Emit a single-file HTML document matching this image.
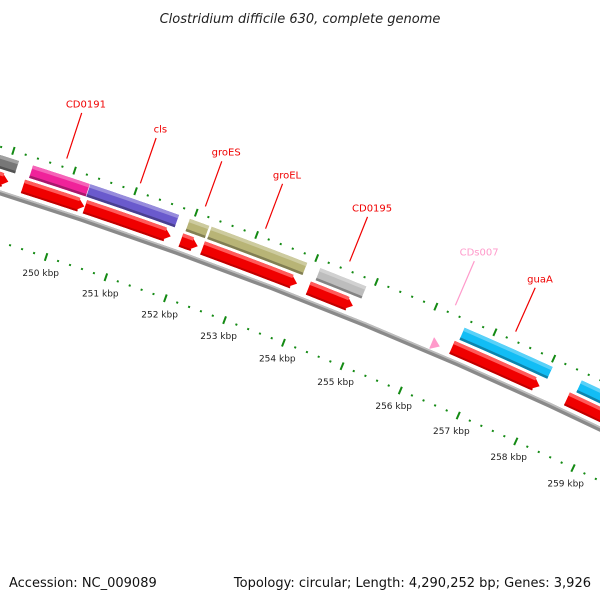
<!DOCTYPE html>
<html><head><meta charset="utf-8">
<style>
html,body{margin:0;padding:0;background:#fff;}
svg{display:block;font-family:"DejaVu Sans","Liberation Sans",sans-serif;}
</style></head>
<body>
<svg id="map" width="600" height="600" viewBox="0 0 600 600" xmlns="http://www.w3.org/2000/svg">
<rect width="600" height="600" fill="#fff"/>
<text x="300" y="23" text-anchor="middle" font-size="13" font-style="italic" fill="#222">Clostridium difficile 630, complete genome</text>
<g id="plot"></g>
<text x="9" y="587" font-size="13" fill="#111">Accession: NC_009089</text>
<text x="591" y="587" font-size="13" fill="#111" text-anchor="end">Topology: circular; Length: 4,290,252 bp; Genes: 3,926</text>
</svg>
<script>
// ---- data (kbp positions) ----
const geneNames   = ["", "CD0191", "cls", "groES", "groEL", "CD0195", "guaA", ""];
const geneStarts  = [246.0, 249.36, 250.30, 251.94, 252.30, 254.11, 256.54, 258.54];
const geneEnds    = [249.13, 250.29, 251.76, 252.26, 253.89, 254.88, 258.04, 261.0];
const geneColors  = ["#777777", "#f0229a", "#6a5acd", "#b8b476", "#bdbdbd", "#bdbdbd", "#12bdf5", "#12bdf5"];
const cdsStarts   = [246.0, 249.31, 250.33, 251.92, 252.28, 254.05, 256.48, 258.45];
const cdsEnds     = [249.07, 250.32, 251.75, 252.20, 253.86, 254.80, 257.98, 261.0];
const miscNames   = ["CDs007"];
const miscStarts  = [256.16];
const miscEnds    = [256.30];
const tickLabels  = ["250 kbp","251 kbp","252 kbp","253 kbp","254 kbp","255 kbp","256 kbp","257 kbp","258 kbp","259 kbp"];
const tickValues  = [250,251,252,253,254,255,256,257,258,259];
geneColors[4] = "#b8b476";
// ---- scale ----
const CX=-1401, CY=4634, TH0=-1.2515, DTH=0.01369;
const R_BACK=4657, R_CDS1=4663, R_CDS2=4677, R_G1=4680, R_G2=4693, R_OUT=4701, R_IN=4610;
const NS="http://www.w3.org/2000/svg";
const plot=document.getElementById('plot');
function ang(k){return TH0+(k-250)*DTH;}
function pt(k,r){const a=ang(k);return [CX+r*Math.cos(a), CY+r*Math.sin(a)];}
function mk(tag,attrs){const e=document.createElementNS(NS,tag);for(const k in attrs)e.setAttribute(k,attrs[k]);plot.appendChild(e);return e;}
function band(k1,k2,r1,r2,head){
  const n=12,pts=[];
  const kb=head?Math.max(k1,k2-0.13):k2;
  for(let i=0;i<=n;i++){pts.push(pt(k1+(kb-k1)*i/n,r2));}
  if(head){pts.push(pt(k2,(r1+r2)/2));}
  for(let i=n;i>=0;i--){pts.push(pt(k1+(kb-k1)*i/n,r1));}
  return "M"+pts.map(p=>p[0].toFixed(2)+","+p[1].toFixed(2)).join("L")+"Z";
}
function shade(c,f){const n=parseInt(c.slice(1),16);let r=n>>16,g=(n>>8)&255,b=n&255;
  if(f>0){r+= (255-r)*f;g+=(255-g)*f;b+=(255-b)*f;}else{r*=1+f;g*=1+f;b*=1+f;}
  return "rgb("+Math.round(r)+","+Math.round(g)+","+Math.round(b)+")";}
// backbone
let e=mk('path',{d:band(244,263,R_BACK-2.5,R_BACK+2.5,false),fill:"#8a8a8a"});

e=mk('path',{d:band(244,263,R_BACK+0.8,R_BACK+2.5,false),fill:"#bdbdbd"});

// tick rings
function ring(r,name,labels){
  for(let k=244;k<=263.001;k+=0.2){
    const kk=Math.round(k*10)/10;const major=Math.abs(kk-Math.round(kk))<0.01;
    const a=pt(kk,r-(major?4:1)),b=pt(kk,r+(major?4:1));
    const t=mk('line',{x1:a[0],y1:a[1],x2:b[0],y2:b[1],stroke:"#138a13","stroke-width":2});
    
    
  }
  if(labels){
    tickValues.forEach((v,i)=>{const p=pt(v,r-17);
      const t=mk('text',{x:p[0].toFixed(1),y:(p[1]+3).toFixed(1),"text-anchor":"middle","font-size":"9",fill:"#222"});
      t.textContent=tickLabels[i];
      
      });
  }
}
ring(R_IN,'inner-ring',true);
ring(R_OUT,'outer-ring',false);
// CDS arrows (red)
cdsStarts.forEach((s,i)=>{
  let p=mk('path',{d:band(s,cdsEnds[i],R_CDS1,R_CDS2,true),fill:"#f00000"});
  
  p=mk('path',{d:band(s,cdsEnds[i]-0.1,R_CDS2-3.5,R_CDS2,false),fill:"#ff5a5a"});
  
  p=mk('path',{d:band(s,cdsEnds[i]-0.08,R_CDS1,R_CDS1+2,false),fill:"#c00000"});
  
});
// genes
function label(k,txt,col){
  const a=pt(k,R_OUT+9),b=pt(k,R_OUT+57),c=pt(k,R_OUT+64);
  let l=mk('line',{x1:a[0],y1:a[1],x2:b[0],y2:b[1],stroke:col,"stroke-width":1.2});
  
  let t=mk('text',{x:(c[0]+2).toFixed(1),y:(c[1]+1).toFixed(1),"text-anchor":"middle","font-size":"10",fill:col});
  t.textContent=txt;
  
}
geneStarts.forEach((s,i)=>{
  const c=geneColors[i];
  let p=mk('path',{d:band(s,geneEnds[i],R_G1,R_G2,false),fill:c});
  
  p=mk('path',{d:band(s,geneEnds[i],R_G2-3.5,R_G2,false),fill:shade(c,0.3)});
  
  p=mk('path',{d:band(s,geneEnds[i],R_G1,R_G1+2.5,false),fill:shade(c,-0.3)});
  
  if(geneNames[i])label((s+geneEnds[i])/2,geneNames[i],"#f00000");
});
// misc features
miscStarts.forEach((s,i)=>{
  let p=mk('path',{d:band(s,miscEnds[i],R_BACK+3,R_BACK+15,true),fill:"#ff9acb"});
  
  label((s+miscEnds[i])/2+0.04,miscNames[i],"#ff9acb");
});
</script>
</body></html>
